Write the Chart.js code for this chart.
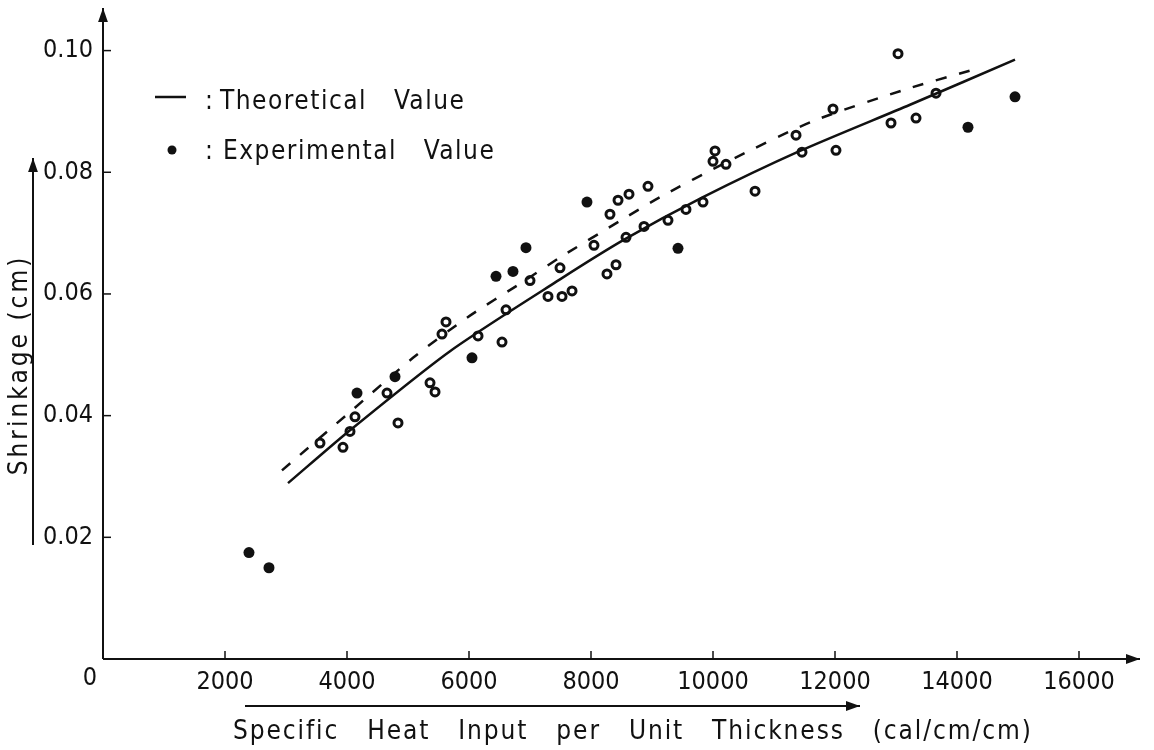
<!DOCTYPE html>
<html>
<head>
<meta charset="utf-8">
<title>Shrinkage vs specific heat input</title>
<script src="https://cdn.jsdelivr.net/npm/chart.js@4/dist/chart.umd.min.js"></script>
<style>
  html, body { margin: 0; padding: 0; background: #fff; }
  #wrap { width: 1154px; height: 750px; position: relative; }
</style>
</head>
<body>
<div id="wrap"><canvas id="chart"></canvas></div>
<script>
// Values.
const theoX = [3033, 4049, 5689, 7492, 8557, 9836, 11426, 13230, 14951];
const theoY = [0.0289, 0.0376, 0.0506, 0.0624, 0.0690, 0.0759, 0.0835, 0.0911, 0.0985];

const dashX = [2934, 4049, 5082, 5967, 6885, 7492, 8525, 9131, 10230, 11639, 13180, 14213];
const dashY = [0.0310, 0.0406, 0.0495, 0.0561, 0.0620, 0.0660, 0.0723, 0.0759, 0.0817, 0.0884, 0.0937, 0.0967];

const openX = [3557, 3934, 4049, 4131, 4656, 4836, 5361, 5443, 5557, 5623, 6148, 6541, 6607, 7000,
  7295, 7525, 7689, 7492, 8049, 8262, 8410, 8574, 8869, 8311, 8443, 8623, 8934, 9262, 9557, 9836,
  10033, 10000, 10213, 10689, 11361, 11459, 11967, 12016, 12918, 13033, 13328, 13656];
const openY = [0.0355, 0.0348, 0.0374, 0.0398, 0.0437, 0.0388, 0.0454, 0.0439, 0.0534, 0.0554, 0.0531, 0.0521, 0.0574, 0.0622,
  0.0596, 0.0596, 0.0605, 0.0643, 0.0680, 0.0633, 0.0648, 0.0693, 0.0711, 0.0731, 0.0754, 0.0764, 0.0777, 0.0721, 0.0739, 0.0751,
  0.0835, 0.0818, 0.0813, 0.0769, 0.0861, 0.0833, 0.0904, 0.0836, 0.0881, 0.0995, 0.0889, 0.0930];

const solidX = [2393, 2721, 4164, 4787, 6049, 6443, 6721, 6934, 7934, 9426, 14180, 14951];
const solidY = [0.0175, 0.0150, 0.0437, 0.0464, 0.0495, 0.0629, 0.0637, 0.0676, 0.0751, 0.0675, 0.0874, 0.0924];

const xTicks = [2000, 4000, 6000, 8000, 10000, 12000, 14000, 16000];
const yTicks = [0.02, 0.04, 0.06, 0.08, 0.10];

const INK = '#111';
const NUM_FONT = '"DejaVu Sans Condensed", "DejaVu Sans", sans-serif';
const TXT_FONT = '"DejaVu Sans Condensed", "DejaVu Sans", sans-serif';

const pts = (xs, ys) => xs.map((x, i) => ({ x, y: ys[i] }));

function arrow(ctx, x1, y1, x2, y2, size) {
  const a = Math.atan2(y2 - y1, x2 - x1);
  ctx.beginPath();
  ctx.moveTo(x1, y1);
  ctx.lineTo(x2, y2);
  ctx.stroke();
  ctx.beginPath();
  ctx.moveTo(x2, y2);
  ctx.lineTo(x2 - size * Math.cos(a) + size * 0.35 * Math.sin(a), y2 - size * Math.sin(a) - size * 0.35 * Math.cos(a));
  ctx.lineTo(x2 - size * Math.cos(a) - size * 0.35 * Math.sin(a), y2 - size * Math.sin(a) + size * 0.35 * Math.cos(a));
  ctx.closePath();
  ctx.fill();
}

// axes with arrows, inward tick marks, titles and the hand-lettered legend
const decorPlugin = {
  id: 'decor',
  afterDraw(chart) {
    const ctx = chart.ctx;
    const ca = chart.chartArea;
    const xs = chart.scales.x, ys = chart.scales.y;
    ctx.save();
    ctx.strokeStyle = INK;
    ctx.fillStyle = INK;
    ctx.lineWidth = 2;

    arrow(ctx, ca.left, ca.bottom, ca.left, ca.top, 14);
    arrow(ctx, ca.left, ca.bottom, ca.right, ca.bottom, 14);

    ctx.lineWidth = 1.5;
    yTicks.forEach(v => {
      const y = ys.getPixelForValue(v);
      ctx.beginPath(); ctx.moveTo(ca.left, y); ctx.lineTo(ca.left + 8, y); ctx.stroke();
    });
    xTicks.forEach(v => {
      const x = xs.getPixelForValue(v);
      ctx.beginPath(); ctx.moveTo(x, ca.bottom); ctx.lineTo(x, ca.bottom - 8); ctx.stroke();
    });

    // origin label
    ctx.font = `25px ${NUM_FONT}`;
    ctx.textAlign = 'center';
    ctx.textBaseline = 'middle';
    ctx.fillText('0', ca.left - 13, ca.bottom + 19);

    // x title with its arrow
    ctx.font = `26px ${TXT_FONT}`;
    ctx.letterSpacing = '1.9px';
    ctx.textAlign = 'left';
    ctx.textBaseline = 'alphabetic';
    ctx.fillText('Specific   Heat   Input   per   Unit   Thickness   (cal/cm/cm)', 233, 739);
    ctx.lineWidth = 2;
    arrow(ctx, 245, 706, 860, 706, 14);

    // y title with its arrow
    ctx.save();
    ctx.translate(27, 365);
    ctx.rotate(-Math.PI / 2);
    ctx.textAlign = 'center';
    ctx.letterSpacing = '3px';
    ctx.fillText('Shrinkage (cm)', 0, 0);
    ctx.restore();
    arrow(ctx, 33, 545, 33, 158, 14);

    // legend
    ctx.letterSpacing = '1.5px';
    ctx.font = `26px ${TXT_FONT}`;
    ctx.lineWidth = 2.5;
    ctx.beginPath(); ctx.moveTo(155, 97); ctx.lineTo(186, 97); ctx.stroke();
    ctx.fillText(':', 205, 109);
    ctx.fillText('Theoretical   Value', 220, 109);
    ctx.beginPath(); ctx.arc(172, 150, 4.5, 0, Math.PI * 2); ctx.fill();
    ctx.fillText(':', 205, 159);
    ctx.fillText('Experimental   Value', 223, 159);
    ctx.restore();
  }
};

new Chart(document.getElementById('chart'), {
  type: 'scatter',
  data: {
    datasets: [
      {
        label: 'Theoretical Value',
        data: pts(theoX, theoY),
        showLine: true,
        borderColor: INK,
        borderWidth: 2.5,
        pointRadius: 0,
        tension: 0.25,
      },
      {
        label: 'Theoretical Value (dashed)',
        data: pts(dashX, dashY),
        showLine: true,
        borderColor: INK,
        borderWidth: 2.5,
        borderDash: [11, 13],
        pointRadius: 0,
        tension: 0.25,
      },
      {
        label: 'Experimental Value',
        data: pts(openX, openY),
        pointRadius: 4,
        pointBorderWidth: 3,
        pointBackgroundColor: '#fff',
        pointBorderColor: INK,
      },
      {
        label: 'Experimental Value (filled)',
        data: pts(solidX, solidY),
        pointRadius: 5.5,
        pointBorderWidth: 0,
        pointBackgroundColor: INK,
      },
    ]
  },
  options: {
    responsive: true,
    maintainAspectRatio: false,
    animation: false,
    layout: { padding: { top: 8, right: 14, left: 0, bottom: 0 } },
    plugins: { legend: { display: false }, tooltip: { enabled: false } },
    scales: {
      x: {
        type: 'linear',
        min: 0, max: 17000,
        grid: { display: false },
        border: { display: false },
        afterBuildTicks: s => { s.ticks = [0, ...xTicks].map(v => ({ value: v })); },
        afterFit: s => { s.height = 91; s.paddingLeft = 0; s.paddingRight = 0; },
        ticks: {
          autoSkip: false,
          maxRotation: 0,
          padding: 0,
          color: INK,
          font: { family: NUM_FONT, size: 25 },
          callback: v => xTicks.includes(v) ? String(v) : '',
        }
      },
      y: {
        type: 'linear',
        min: 0, max: 0.107,
        grid: { display: false },
        border: { display: false },
        afterBuildTicks: s => { s.ticks = yTicks.map(v => ({ value: v })); },
        afterFit: s => { s.width = 103; s.paddingTop = 0; s.paddingBottom = 0; },
        ticks: {
          padding: 2,
          color: INK,
          font: { family: NUM_FONT, size: 25 },
          callback: v => v.toFixed(2),
        }
      }
    }
  },
  plugins: [decorPlugin],
});
</script>
</body>
</html>
